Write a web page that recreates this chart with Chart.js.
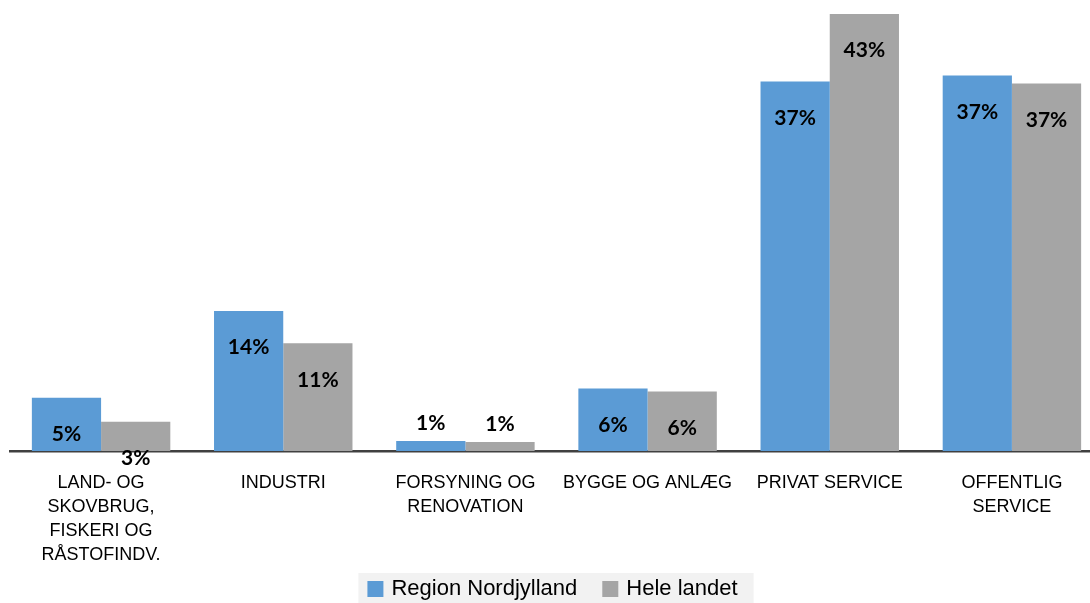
<!DOCTYPE html>
<html>
<head>
<meta charset="utf-8">
<script src="https://cdn.jsdelivr.net/npm/chart.js@4/dist/chart.umd.min.js"></script>
<style>
  html, body { margin: 0; padding: 0; background: #ffffff; overflow: hidden; }
  #wrap { width: 1103px; height: 603px; }
</style>
</head>
<body>
<div id="wrap"><canvas id="c" width="1103" height="603"></canvas></div>
<script>
const categories = [
  ["LAND- OG", "SKOVBRUG,", "FISKERI OG", "RÅSTOFINDV."],
  ["INDUSTRI"],
  ["FORSYNING OG", "RENOVATION"],
  ["BYGGE OG ANLÆG"],
  ["PRIVAT SERVICE"],
  ["OFFENTLIG", "SERVICE"]
];
const seriesNames = ["Region Nordjylland", "Hele landet"];
const regionNordjylland = [5.3, 13.9, 1.0, 6.2, 36.7, 37.3];
const heleLandet = [2.9, 10.7, 0.9, 5.9, 43.4, 36.5];
const colors = ["#5B9BD5", "#A5A5A5"];

const valueLabels = {
  id: "valueLabels",
  afterDatasetsDraw(chart) {
    const ctx = chart.ctx;
    ctx.save();
    ctx.font = "bold 21px Lato";
    ctx.fillStyle = "#000000";
    ctx.textAlign = "center";
    ctx.textBaseline = "middle";
    chart.data.datasets.forEach((ds, di) => {
      const meta = chart.getDatasetMeta(di);
      meta.data.forEach((bar, i) => {
        const v = ds.data[i];
        const txt = Math.round(v) + "%";
        const y = v < 2 ? bar.y - 18 : bar.y + 36.5;
        ctx.fillText(txt, bar.x, y);
      });
    });
    ctx.restore();
  }
};

const customLegend = {
  id: "customLegend",
  afterDraw(chart) {
    const ctx = chart.ctx;
    ctx.save();
    ctx.font = "22px 'Liberation Sans'";
    const box = 16, gap = 8, itemGap = 25, padL = 9, padR = 16;
    const widths = chart.data.datasets.map(d => ctx.measureText(d.label).width);
    let total = padL + padR;
    widths.forEach((w, i) => { total += box + gap + w + (i < widths.length - 1 ? itemGap : 0); });
    const cx = 556;
    const left = cx - total / 2;
    const top = 573, h = 30;
    ctx.fillStyle = "#F2F2F2";
    ctx.fillRect(left, top, total, h);
    let x = left + padL;
    const cy = top + h / 2 + 1;
    ctx.textBaseline = "middle";
    ctx.textAlign = "left";
    chart.data.datasets.forEach((d, i) => {
      ctx.fillStyle = d.backgroundColor;
      ctx.fillRect(x, cy - box / 2, box, box);
      x += box + gap;
      ctx.fillStyle = "#000000";
      ctx.fillText(d.label, x, cy);
      x += widths[i] + itemGap;
    });
    ctx.restore();
  }
};

new Chart(document.getElementById("c"), {
  type: "bar",
  data: {
    labels: categories,
    datasets: [
      { label: seriesNames[0], data: regionNordjylland, backgroundColor: colors[0] },
      { label: seriesNames[1], data: heleLandet, backgroundColor: colors[1] }
    ]
  },
  options: {
    responsive: false,
    animation: false,
    layout: { padding: { left: 10, right: 0, top: 0, bottom: 30 } },
    datasets: { bar: { categoryPercentage: 0.76, barPercentage: 1.0 } },
    plugins: {
      legend: { display: false },
      tooltip: { enabled: false }
    },
    scales: {
      x: {
        grid: { display: false, drawTicks: false },
        border: { display: true, color: "#404040", width: 2.5 },
        ticks: {
          color: "#000000",
          font: { family: "'Liberation Sans'", size: 18, lineHeight: 1.333 },
          padding: 20,
          maxRotation: 0,
          autoSkip: false
        },
        afterFit(scale) { scale.height = 122; }
      },
      y: {
        display: false,
        min: 0,
        max: 44.8
      }
    }
  },
  plugins: [valueLabels, customLegend]
});
</script>
</body>
</html>
